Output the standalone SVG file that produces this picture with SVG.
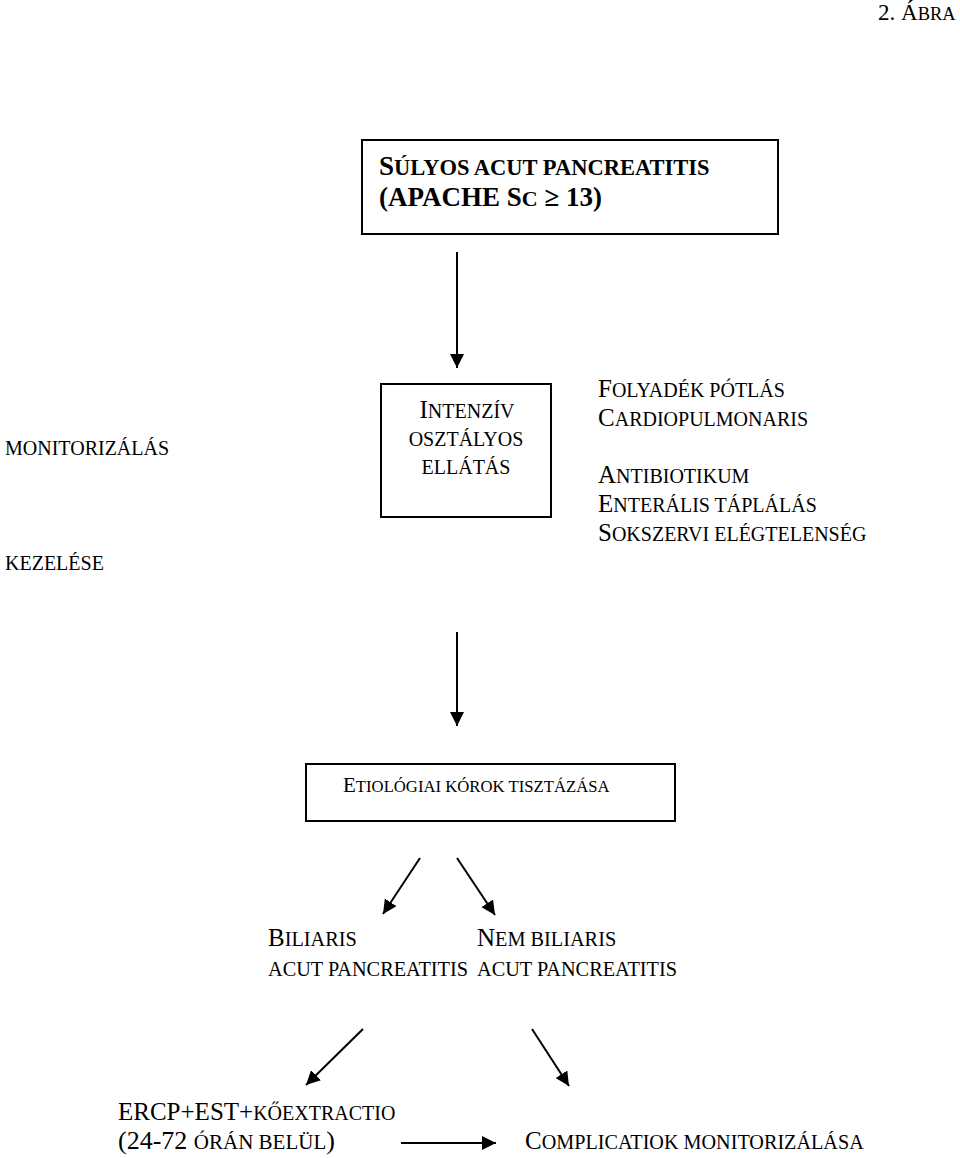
<svg xmlns="http://www.w3.org/2000/svg" width="960" height="1158" viewBox="0 0 960 1158">
<style>
text{font-family:"Liberation Serif","Times New Roman",serif;fill:#000}
.b{font-weight:bold}
.box{fill:#fff;stroke:#000;stroke-width:2}
.ln{stroke:#000;stroke-width:2;fill:none}
</style>
<defs>
<marker id="a" viewBox="0 0 12 12" refX="12" refY="6" markerWidth="14" markerHeight="14" markerUnits="userSpaceOnUse" orient="auto">
<path d="M0,0 L12,6 L0,12 z" fill="#000"/>
</marker>
</defs>
<rect width="960" height="1158" fill="#fff"/>

<text id="fig" x="878" y="20" font-size="23">2. Á<tspan font-size="18.4">BRA</tspan></text>

<g id="n-title">
<rect class="box" x="362" y="140" width="416" height="94"/>
<text class="b" x="379" y="175" font-size="27">S<tspan font-size="22.5">ÚLYOS ACUT PANCREATITIS</tspan></text>
<text class="b" x="379" y="206" font-size="27">(APACHE S<tspan font-size="22">C</tspan> ≥ 13)</text>
</g>

<g id="n-monitor">
<text x="5" y="455" font-size="20">MONITORIZÁLÁS</text>
<text x="5" y="570" font-size="20">KEZELÉSE</text>
</g>

<g id="n-icu">
<rect class="box" x="381" y="384" width="170" height="133"/>
<text x="467" y="418" font-size="25" text-anchor="middle">I<tspan font-size="20">NTENZÍV</tspan></text>
<text x="466" y="446" font-size="20" text-anchor="middle">OSZTÁLYOS</text>
<text x="466" y="474" font-size="20" text-anchor="middle">ELLÁTÁS</text>
</g>

<g id="n-list">
<text x="598" y="397" font-size="25">F<tspan font-size="20">OLYADÉK PÓTLÁS</tspan></text>
<text x="598" y="426" font-size="25">C<tspan font-size="20">ARDIOPULMONARIS</tspan></text>
<text x="598" y="483" font-size="25">A<tspan font-size="20">NTIBIOTIKUM</tspan></text>
<text x="598" y="512" font-size="25">E<tspan font-size="20">NTERÁLIS TÁPLÁLÁS</tspan></text>
<text x="598" y="541" font-size="25">S<tspan font-size="20">OKSZERVI ELÉGTELENSÉG</tspan></text>
</g>

<g id="n-etio">
<rect class="box" x="306" y="764" width="369" height="57"/>
<text x="343" y="792" font-size="21">E<tspan font-size="16.7">TIOLÓGIAI KÓROK TISZTÁZÁSA</tspan></text>
</g>

<g id="n-biliaris">
<text x="268" y="946" font-size="25">B<tspan font-size="20.3">ILIARIS</tspan></text>
<text x="268" y="976" font-size="20.3">ACUT PANCREATITIS</text>
</g>

<g id="n-nembiliaris">
<text x="477" y="946" font-size="25">N<tspan font-size="20.3">EM BILIARIS</tspan></text>
<text x="477" y="976" font-size="20.3">ACUT PANCREATITIS</text>
</g>

<g id="n-ercp">
<text x="118" y="1120" font-size="25">ERCP+EST+<tspan font-size="20">KŐEXTRACTIO</tspan></text>
<text x="118" y="1149" font-size="26">(24-72 <tspan font-size="21">ÓRÁN BELÜL</tspan>)</text>
</g>

<g id="n-compl">
<text x="525" y="1149" font-size="25">C<tspan font-size="20.2">OMPLICATIOK MONITORIZÁLÁSA</tspan></text>
</g>

<g id="connectors">
<line class="ln" x1="457" y1="252" x2="457" y2="368" marker-end="url(#a)"/>
<line class="ln" x1="457" y1="632" x2="457" y2="726" marker-end="url(#a)"/>
<line class="ln" x1="420" y1="858" x2="383" y2="914" marker-end="url(#a)"/>
<line class="ln" x1="457" y1="858" x2="495" y2="915" marker-end="url(#a)"/>
<line class="ln" x1="363" y1="1029" x2="306" y2="1085" marker-end="url(#a)"/>
<line class="ln" x1="532" y1="1029" x2="569" y2="1086" marker-end="url(#a)"/>
<line class="ln" x1="401" y1="1143" x2="496" y2="1143" marker-end="url(#a)"/>
</g>
</svg>
